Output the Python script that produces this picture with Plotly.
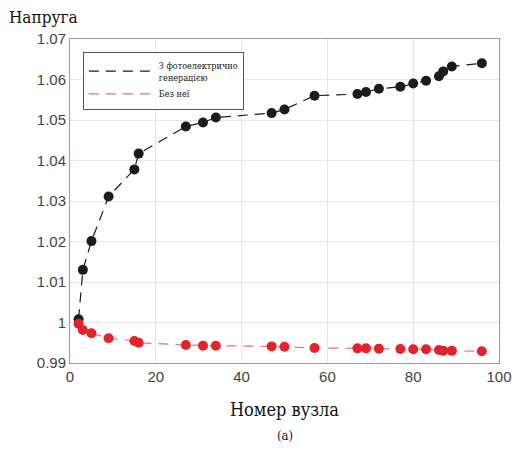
import plotly.graph_objects as go

nodes_pv = [2, 3, 5, 9, 15, 16, 27, 31, 34, 47, 50, 57, 67, 69, 72, 77, 80, 83, 86, 87, 89, 96]
v_pv = [1.0008, 1.013, 1.0201, 1.0311, 1.0378, 1.0417, 1.0484, 1.0494, 1.0506, 1.0517, 1.0526,
        1.0560, 1.0564, 1.0569, 1.0577, 1.0582, 1.0590, 1.0597, 1.0608, 1.0620, 1.0632, 1.0640]

nodes_base = [2, 3, 5, 9, 15, 16, 27, 31, 34, 47, 50, 57, 67, 69, 72, 77, 80, 83, 86, 87, 89, 96]
v_base = [0.9997, 0.99815, 0.99733, 0.9961, 0.99543, 0.9950, 0.99444, 0.99428, 0.99428, 0.9941, 0.9940,
          0.9937, 0.99362, 0.99362, 0.99354, 0.99346, 0.9934, 0.9934, 0.9932, 0.9930, 0.9930, 0.9929]

y_ticks = [0.99, 1.0, 1.01, 1.02, 1.03, 1.04, 1.05, 1.06, 1.07]
y_labels = ["0.99", "1", "1.01", "1.02", "1.03", "1.04", "1.05", "1.06", "1.07"]
x_ticks = [0, 20, 40, 60, 80, 100]

BLACK = "#1c1c1c"
RED = "#e2232b"
SERIF = "DejaVu Serif Condensed, DejaVu Serif"

fig = go.Figure()
fig.add_trace(go.Scatter(x=nodes_pv, y=v_pv, mode="lines",
                         line=dict(color=BLACK, width=1.2, dash="10px,7px"),
                         name="З фотоелектрично<br>генерацією"))
fig.add_trace(go.Scatter(x=nodes_base, y=v_base, mode="lines",
                         line=dict(color="#e8707a", width=1.2, dash="10px,7px"),
                         name="Без неї"))
fig.add_trace(go.Scatter(x=nodes_pv, y=v_pv, mode="markers",
                         marker=dict(color=BLACK, size=10), showlegend=False))
fig.add_trace(go.Scatter(x=nodes_base, y=v_base, mode="markers",
                         marker=dict(color=RED, size=10), showlegend=False))

axis_common = dict(showgrid=True, gridcolor="#e6e6e6", gridwidth=1,
                   showline=True, linecolor="#9a9a9a", linewidth=1, mirror=True,
                   ticks="", zeroline=False,
                   tickfont=dict(family="Liberation Sans", size=15, color="#444444"))

fig.update_xaxes(range=[0, 100], tickvals=x_ticks, **axis_common)
fig.update_yaxes(range=[0.99, 1.07], tickvals=y_ticks, ticktext=y_labels, **axis_common)

fig.update_layout(
    width=524, height=451,
    margin=dict(l=70, r=15, t=39, b=88),
    paper_bgcolor="white", plot_bgcolor="white",
    showlegend=True,
    legend=dict(x=0.03, y=0.96, xanchor="left", yanchor="top",
                bgcolor="white", bordercolor="#555555", borderwidth=1,
                font=dict(family=SERIF, size=9, color="#111"),
                itemwidth=65, tracegroupgap=0),
    annotations=[
        dict(text="Напруга", xref="paper", yref="paper", x=-0.148, y=1.068,
             xanchor="left", yanchor="middle", showarrow=False,
             font=dict(family=SERIF, size=17, color="#111")),
        dict(text="Номер вузла", xref="paper", yref="paper", x=0.5, y=-0.145,
             xanchor="center", yanchor="middle", showarrow=False,
             font=dict(family=SERIF, size=18, color="#111")),
        dict(text="(a)", xref="paper", yref="paper", x=0.5, y=-0.225,
             xanchor="center", yanchor="middle", showarrow=False,
             font=dict(family=SERIF, size=13, color="#111")),
    ],
)

fig.write_html("out.html")
